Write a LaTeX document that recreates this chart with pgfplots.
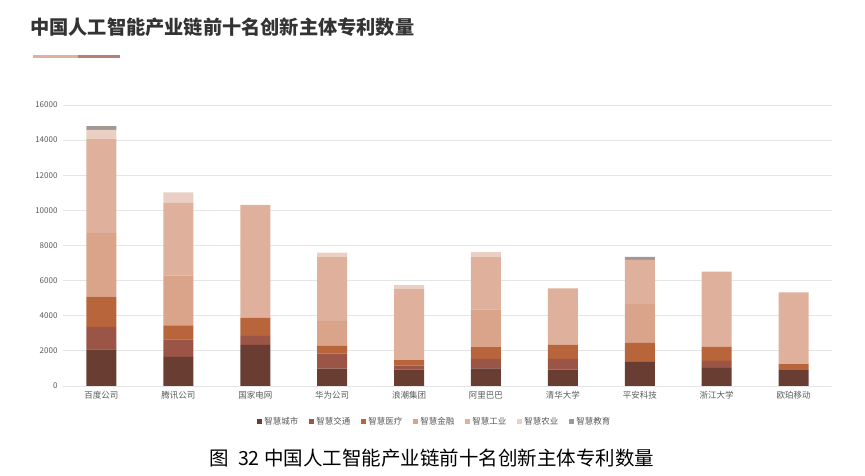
\documentclass[border=0pt]{standalone}
\usepackage{pgfplots}
\pgfplotsset{compat=1.18}
\usepackage{pgfplotstable}
\usepackage{fontspec}
\setmainfont{Noto Sans CJK SC}
\definecolor{cCity}{HTML}{6A3D32}
\definecolor{cTraf}{HTML}{9B5546}
\definecolor{cMed}{HTML}{B8653C}
\definecolor{cFin}{HTML}{D9A48A}
\definecolor{cInd}{HTML}{DFB19C}
\definecolor{cAgr}{HTML}{EAD0C4}
\definecolor{cEdu}{HTML}{A39893}
\pgfplotstableread{
x city traf med fin ind agr edu
0 2080 1290 1720 3610 5380 510 210
1 1660 990 800 2840 4130 610 0
2 2340 520 1040 0 6420 0 0
3 990 860 440 1410 3670 230 0
4 930 230 310 0 4050 230 0
5 1010 530 670 2150 3010 250 0
6 930 610 800 0 3220 0 0
7 1370 0 1090 2210 2510 0 170
8 1030 400 800 0 4280 0 0
9 900 0 340 0 4090 0 0
}\data
\begin{document}
\begin{tikzpicture}[x=1pt,y=1pt]
\useasboundingbox (0,0) rectangle (865,476);
\node[anchor=west,inner sep=0pt,text=black!80,font=\fontsize{19.2}{21}\selectfont\bfseries] at (30,449) {中国人工智能产业链前十名创新主体专利数量};
\draw[line width=3pt,color=cFin!85] (33,419) -- (78,419);
\draw[line width=3pt,color=cTraf!75] (78,419) -- (120,419);
\begin{axis}[
  at={(63pt,90pt)}, anchor=south west,
  scale only axis, width=769pt, height=281pt,
  ybar stacked, bar width=30pt,
  xmin=-0.5, xmax=9.5, ymin=0, ymax=16000,
  ytick={0,2000,...,16000},
  xtick=data,
  xticklabels={百度公司,腾讯公司,国家电网,华为公司,浪潮集团,阿里巴巴,清华大学,平安科技,浙江大学,欧珀移动},
  axis line style={draw=none},
  major tick length=0pt,
  ymajorgrids, grid style={color=black!10, line width=0.8pt},
  tick label style={text=black!65},
  yticklabel style={font=\fontsize{8}{9}\selectfont, xshift=-2pt},
  xticklabel style={font=\fontsize{8.5}{9}\selectfont, yshift=-2pt},
  /pgf/number format/assume math mode=true,
  scaled y ticks=false,
  yticklabel={\pgfmathprintnumber[fixed,1000 sep={}]{\tick}},
  legend style={at={(0.4837,-0.128)}, anchor=center, draw=none, fill=none,
    legend columns=7, font=\fontsize{8.5}{9}\selectfont, text=black!65,
    /tikz/every even column/.append style={column sep=9pt}},
  legend image code/.code={\fill[#1] (0pt,-2.5pt) rectangle (5pt,2.5pt);},
  legend cell align=left,
  every axis plot/.append style={draw=none},
]
\addplot[fill=cCity] table[x=x,y=city]{\data};
\addplot[fill=cTraf] table[x=x,y=traf]{\data};
\addplot[fill=cMed] table[x=x,y=med]{\data};
\addplot[fill=cFin] table[x=x,y=fin]{\data};
\addplot[fill=cInd] table[x=x,y=ind]{\data};
\addplot[fill=cAgr] table[x=x,y=agr]{\data};
\addplot[fill=cEdu] table[x=x,y=edu]{\data};
\legend{智慧城市,智慧交通,智慧医疗,智慧金融,智慧工业,智慧农业,智慧教育}
\end{axis}
\node[anchor=center,text=black,font=\fontsize{19.5}{21}\selectfont] at (432,18) {图\ \ 32\ 中国人工智能产业链前十名创新主体专利数量};
\end{tikzpicture}
\end{document}
